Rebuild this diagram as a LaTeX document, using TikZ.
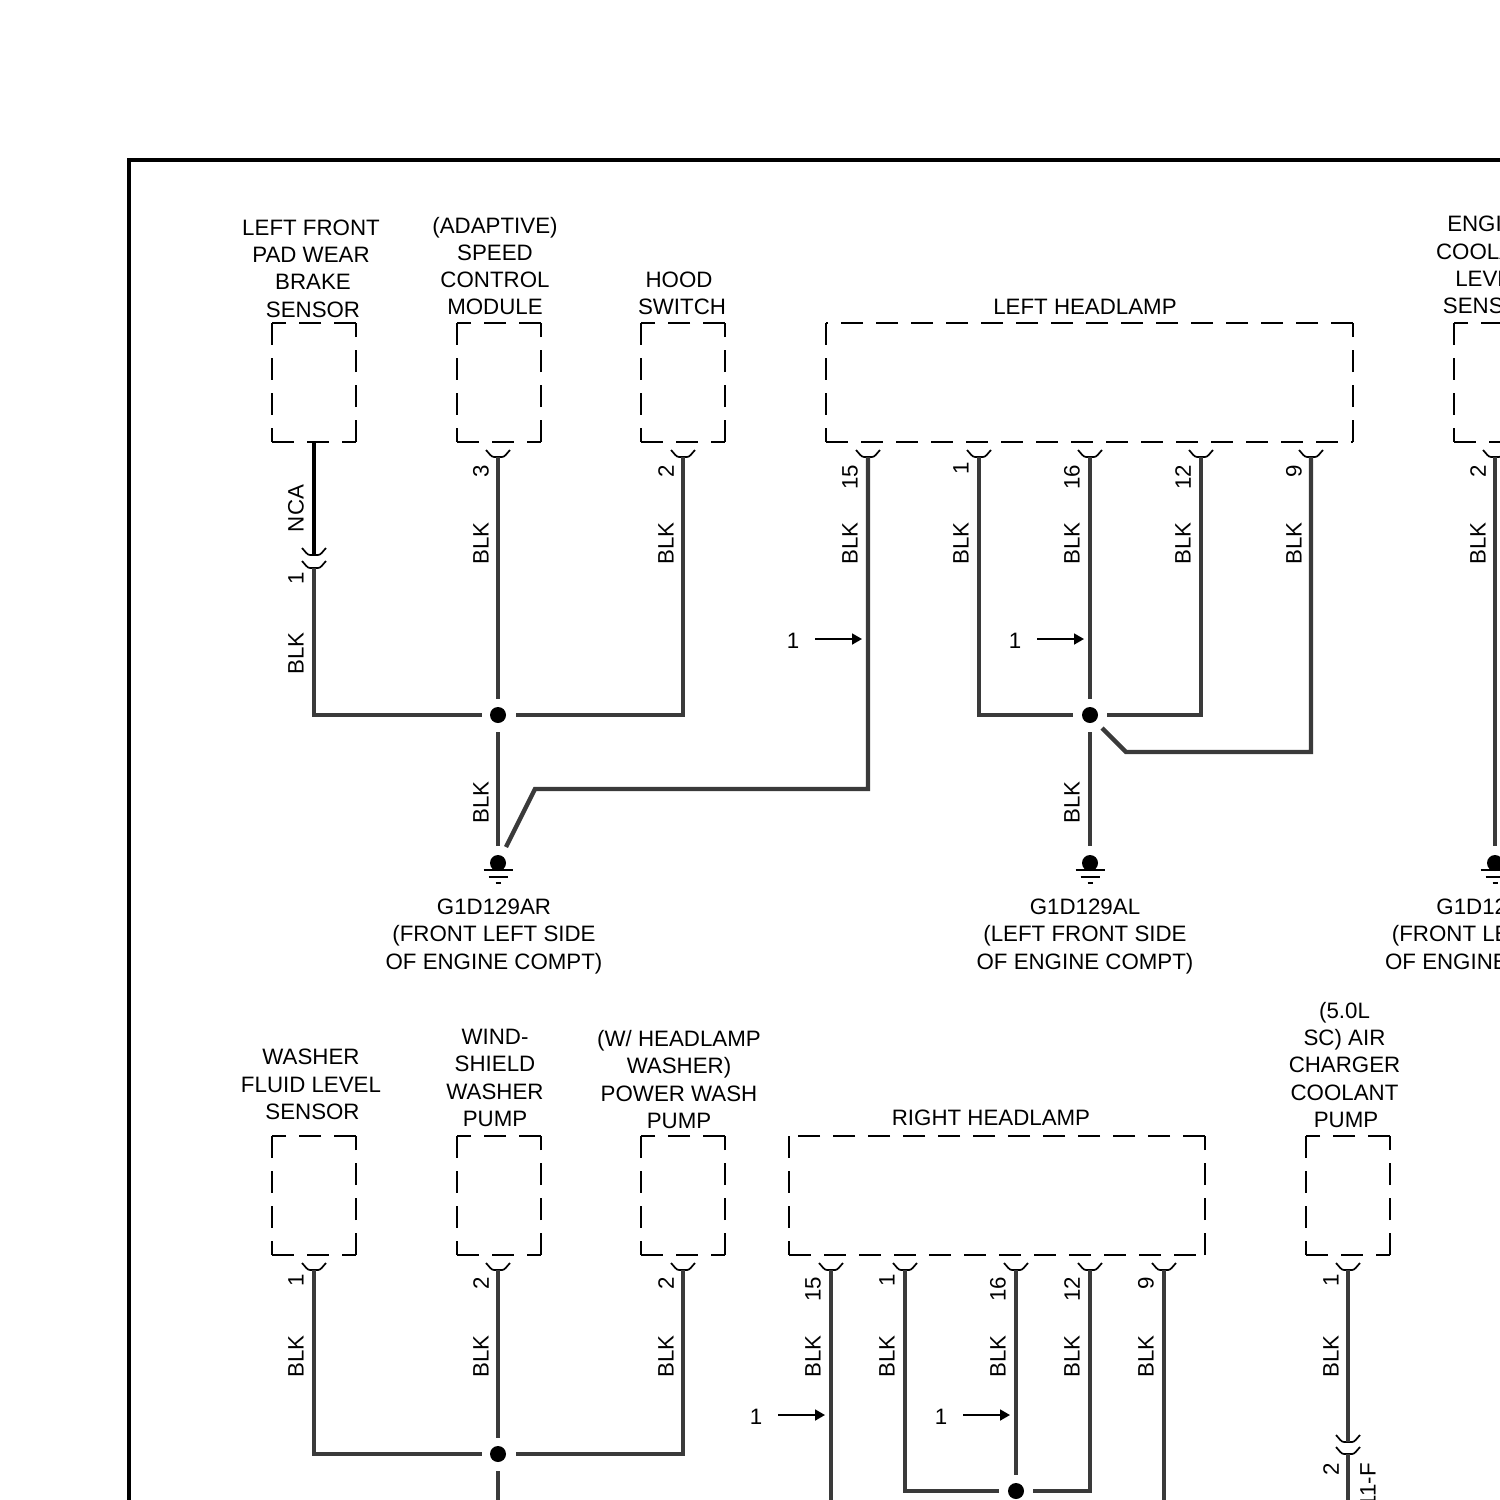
\documentclass[tikz,border=0pt]{standalone}
\usepackage{fontspec}
\setmainfont{Liberation Sans}
\usetikzlibrary{arrows.meta}
\definecolor{wirec}{HTML}{3A3A3A}
\newcommand{\dbox}[4]{%
 \draw[boxline] (#3,#2) -- (#1,#2);
 \draw[boxline] (#1,#2) -- (#1,#4);
 \draw[boxline] (#1,#4) -- (#3,#4);
 \draw[boxline] (#3,#4) -- (#3,#2);
}
\newcommand{\pinmark}[2]{%
 \draw[pinline] (#1-12,#2-7) .. controls (#1-9,#2-4) and (#1-7,#2) .. (#1-4,#2) -- (#1+4,#2) .. controls (#1+7,#2) and (#1+9,#2-4) .. (#1+12,#2-7);
}
\newcommand{\rlab}[3]{\node[rotlabel] at (#1,#2) {#3};}
\newcommand{\gnd}[2]{%
 \fill (#1,#2) circle (8);
 \draw[pinline] (#1-14.5,#2+7) -- (#1+14.5,#2+7);
 \draw[pinline] (#1-9.5,#2+14) -- (#1+9.5,#2+14);
 \draw[pinline] (#1-2.5,#2+20) -- (#1+2.5,#2+20);
}
\tikzset{
 boxline/.style={line width=1.9pt,black,dash pattern=on 22pt off 13pt},
 wire/.style={line width=4.3pt,wirec,line join=miter},
 pinline/.style={line width=1.7pt,black},
 rotlabel/.style={rotate=90,font=\fontsize{22.3}{22.3}\selectfont,inner sep=0pt},
 title/.style={align=center,font=\fontsize{22.3}{27.3}\selectfont,inner sep=0pt},
 numlabel/.style={font=\fontsize{22.3}{22.3}\selectfont,inner sep=0pt},
 flag/.style={line width=1.8pt,black,-{Triangle[length=10pt,width=11pt]}},
 joint/.style={circle,fill=black,inner sep=0pt,minimum size=16pt}
}
\begin{document}
\begin{tikzpicture}[x=1pt,y=-1pt]
\useasboundingbox (0,0) rectangle (1500,1500);
\clip (0,0) rectangle (1500,1500);
\draw[line width=4pt,black] (1510,160) -- (129,160) -- (129,1510);

% titles row 1
\node[title] at (311,268.5) {LEFT FRONT\\PAD WEAR\\\hspace*{4pt}BRAKE\\\hspace*{4pt}SENSOR};
\node[title] at (495,266) {(ADAPTIVE)\\SPEED\\CONTROL\\MODULE};
\node[title] at (682,293) {\hspace*{-6pt}HOOD\\SWITCH};
\node[title] at (1085,306.5) {LEFT HEADLAMP};
\node[title] at (1490,265) {ENGINE\\COOLANT\\LEVEL\\SENSOR};
\node[title] at (494,936.5) {G1D129AR\\(FRONT LEFT SIDE\\OF ENGINE COMPT)};
\node[title] at (1085,936.5) {G1D129AL\\(LEFT FRONT SIDE\\OF ENGINE COMPT)};
\node[title] at (1493.5,936.5) {G1D129AR\\(FRONT LEFT SIDE\\OF ENGINE COMPT)};

% boxes row 1
\dbox{272}{323}{356}{442}
\dbox{457}{323}{541}{442}
\dbox{641}{323}{725}{442}
\dbox{826}{323}{1353}{442}
\dbox{1454}{323}{1538}{442}

% pins row 1
\foreach \x in {498,683,868,979,1090,1201,1311,1495} {\pinmark{\x}{457}}
\pinmark{314}{555}
\pinmark{314}{568}

\rlab{296}{508.5}{NCA}
\rlab{296}{578}{1}
\rlab{296}{653.5}{BLK}
\rlab{481}{471}{3}
\rlab{481}{543.5}{BLK}
\rlab{666}{471}{2}
\rlab{666}{543.5}{BLK}
\rlab{850}{477}{15}
\rlab{850}{543.5}{BLK}
\rlab{961}{468}{1}
\rlab{961}{543.5}{BLK}
\rlab{1072}{477}{16}
\rlab{1072}{543.5}{BLK}
\rlab{1183}{477}{12}
\rlab{1183}{543.5}{BLK}
\rlab{1294}{471}{9}
\rlab{1294}{543.5}{BLK}
\rlab{1478}{471}{2}
\rlab{1478}{543.5}{BLK}
\rlab{481}{802.5}{BLK}
\rlab{1072}{802.5}{BLK}

% joints and grounds row 1
\node[joint] (ja) at (498,715) {};
\node[joint] (jb) at (1090,715) {};
\gnd{498}{863}
\gnd{1090}{863}
\gnd{1495}{863}

% wires row 1
\draw[line width=4.5pt,black] (314,442) -- (314,555);
\draw[wire] (314,568) -- (314,715) -- (482,715);
\draw[wire] (498,457) -- (498,699);
\draw[wire] (516,715) -- (683,715) -- (683,457);
\draw[wire] (498,732) -- (498,846);
\draw[wire] (868,457) -- (868,789) -- (535,789) -- (506,847);
\draw[wire] (979,457) -- (979,715) -- (1073,715);
\draw[wire] (1090,457) -- (1090,699);
\draw[wire] (1107,715) -- (1201,715) -- (1201,457);
\draw[wire] (1090,732) -- (1090,846);
\draw[wire] (1311,457) -- (1311,752) -- (1126,752) -- (1102,728);
\draw[wire] (1495,457) -- (1495,846);

% flags row 1
\node[numlabel] (fa) at (793,641) {1};
\coordinate (fae) at (862,639);
\draw[flag] (815,639) -- (fae);
\node[numlabel] (fb) at (1015,641) {1};
\coordinate (fbe) at (1084,639);
\draw[flag] (1037,639) -- (fbe);

% titles row 2
\node[title] at (311,1084.5) {WASHER\\FLUID LEVEL\\\hspace*{3pt}SENSOR};
\node[title] at (495,1078) {WIND-\\SHIELD\\WASHER\\PUMP};
\node[title] at (679,1079.5) {(W/ HEADLAMP\\WASHER)\\POWER WASH\\PUMP};
\node[title] at (991,1118) {RIGHT HEADLAMP};
\node[title] at (1344.5,1065) {(5.0L\\SC) AIR\\CHARGER\\COOLANT\\\hspace*{3pt}PUMP};

% boxes row 2
\dbox{272}{1136}{356}{1255}
\dbox{457}{1136}{541}{1255}
\dbox{641}{1136}{725}{1255}
\dbox{789}{1136}{1205}{1255}
\dbox{1306}{1136}{1390}{1255}

\foreach \x in {314,498,683,831,905,1016,1090,1164,1348} {\pinmark{\x}{1270}}
\pinmark{1348}{1442}
\pinmark{1348}{1454}

\rlab{296}{1280}{1}
\rlab{296}{1356.5}{BLK}
\rlab{481}{1283}{2}
\rlab{481}{1356.5}{BLK}
\rlab{666}{1283}{2}
\rlab{666}{1356.5}{BLK}
\rlab{813}{1289}{15}
\rlab{813}{1356.5}{BLK}
\rlab{887}{1280}{1}
\rlab{887}{1356.5}{BLK}
\rlab{998}{1289}{16}
\rlab{998}{1356.5}{BLK}
\rlab{1072}{1289}{12}
\rlab{1072}{1356.5}{BLK}
\rlab{1146}{1283}{9}
\rlab{1146}{1356.5}{BLK}
\rlab{1331}{1280}{1}
\rlab{1331}{1356.5}{BLK}
\rlab{1331}{1469}{2}
\node[rotlabel,anchor=east] at (1368,1463) {11-F};

\node[joint] (jc) at (498,1454) {};
\node[joint] (jd) at (1016,1491) {};

\draw[wire] (314,1270) -- (314,1454) -- (482,1454);
\draw[wire] (498,1270) -- (498,1438);
\draw[wire] (516,1454) -- (683,1454) -- (683,1270);
\draw[wire] (498,1471) -- (498,1510);
\draw[wire] (831,1270) -- (831,1510);
\draw[wire] (905,1270) -- (905,1491) -- (999,1491);
\draw[wire] (1016,1270) -- (1016,1475);
\draw[wire] (1033,1491) -- (1090,1491) -- (1090,1270);
\draw[wire] (1164,1270) -- (1164,1510);
\draw[wire] (1348,1270) -- (1348,1442);
\draw[wire] (1348,1454) -- (1348,1510);

\node[numlabel] (fc) at (756,1417) {1};
\coordinate (fce) at (825,1415);
\draw[flag] (778,1415) -- (fce);
\node[numlabel] (fd) at (941,1417) {1};
\coordinate (fde) at (1010,1415);
\draw[flag] (963,1415) -- (fde);
\end{tikzpicture}
\end{document}
